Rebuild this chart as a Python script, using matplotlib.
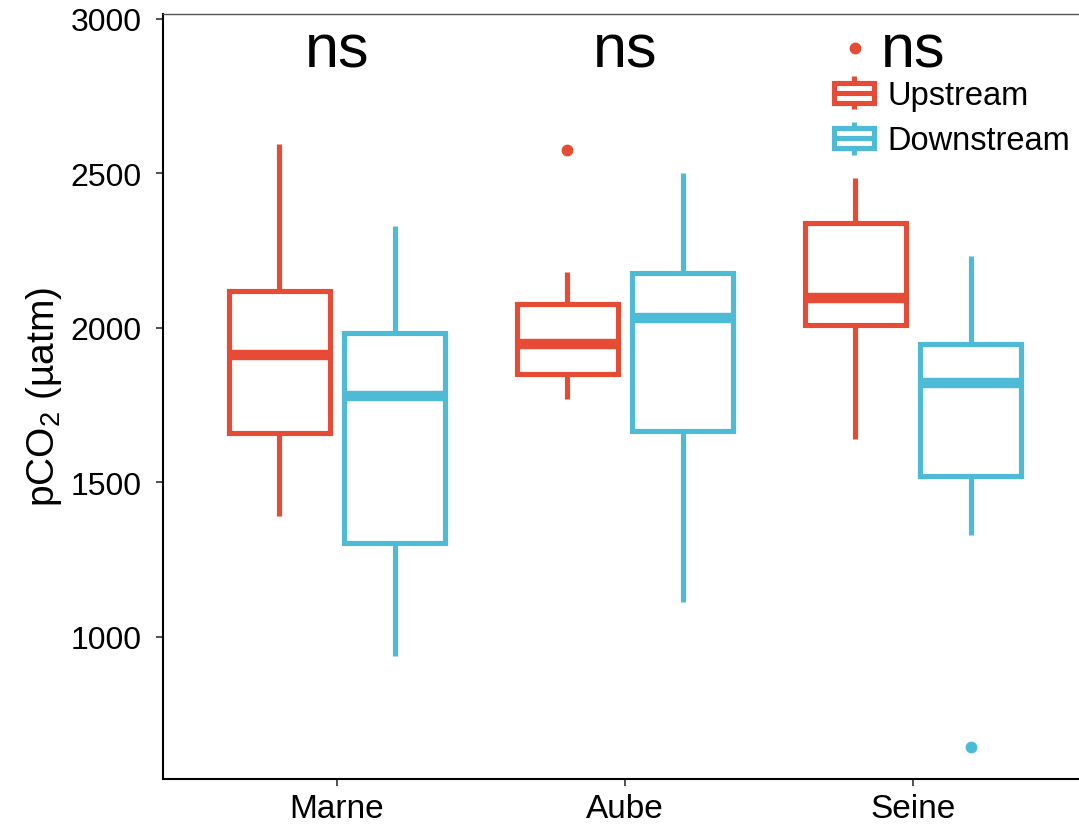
import matplotlib
matplotlib.use("Agg")
import matplotlib.pyplot as plt
from matplotlib.legend_handler import HandlerBase
from matplotlib.patches import Rectangle
from matplotlib.lines import Line2D

plt.rcParams['font.family'] = ['Liberation Sans', 'DejaVu Sans']

# data
rivers = ["Marne", "Aube", "Seine"]
groups = ["Upstream", "Downstream"]
colors = {"Upstream": "#E64B35", "Downstream": "#4DBBD5"}

    # Upstream : whisker low, Q1, median, Q3, whisker high, outliers
up_whislo = [1392, 1770, 1641]
up_q1 = [1659, 1851, 2010]
up_med = [1913, 1948, 2097]
up_q3 = [2118, 2078, 2340]
up_whishi = [2595, 2182, 2485]
up_fliers = [[], [2577], [2906]]

    # Downstream
down_whislo = [938, 1113, 1330]
down_q1 = [1303, 1665, 1521]
down_med = [1780, 2032, 1822]
down_q3 = [1982, 2178, 1948]
down_whishi = [2330, 2502, 2233]
down_fliers = [[], [], [642]]

signif = ["ns", "ns", "ns"]
yticks = [1000, 1500, 2000, 2500, 3000]

summary = {
    "Upstream": (up_whislo, up_q1, up_med, up_q3, up_whishi, up_fliers),
    "Downstream": (down_whislo, down_q1, down_med, down_q3, down_whishi, down_fliers),
}
offsets = {"Upstream": -0.2, "Downstream": 0.2}

    # figure
fig = plt.figure(figsize=(10.79, 8.29), dpi=100)
ax = fig.add_axes([163/1079, 1-780/829, 1-163/1079, (780-15)/829])

for g in groups:
    lo, q1, med, q3, hi, fl = summary[g]
    c = colors[g]
    stats = []
    for i in range(len(rivers)):
        stats.append(dict(whislo=lo[i], q1=q1[i], med=med[i], q3=q3[i], whishi=hi[i], fliers=fl[i]))
    pos = [i + offsets[g] for i in range(len(rivers))]
    ax.bxp(stats, positions=pos, widths=0.35, patch_artist=True, showcaps=False,
           manage_ticks=False,
           boxprops=dict(facecolor='white', edgecolor=c, linewidth=3.7),
           medianprops=dict(color=c, linewidth=7.5, solid_capstyle='butt'),
           whiskerprops=dict(color=c, linewidth=3.7, solid_capstyle='butt'),
           flierprops=dict(marker='o', markerfacecolor=c, markeredgecolor=c, markersize=7.5))

    # significance labels
for i, s in enumerate(signif):
    ax.text(i, 2896, s, ha='center', va='center', fontsize=44)

    # axes
ax.set_xlim(-0.604, 2.576)
ax.set_ylim(540, 3016)
ax.set_xticks(range(len(rivers)))
ax.set_xticklabels(rivers, fontsize=24)
ax.set_yticks(yticks)
ax.set_yticklabels([str(t) for t in yticks], fontsize=23)
ax.tick_params(length=5, width=1.2, colors='#333333', labelcolor='black')
ax.tick_params(axis='y', pad=10.5)
ax.tick_params(axis='x', pad=5)
ax.set_ylabel(r'pCO$_\mathregular{2}$ (µatm)', fontsize=28, labelpad=4.5)
for side in ['left', 'bottom']:
    ax.spines[side].set_linewidth(1.5)
ax.spines['top'].set_color('#555555')
ax.spines['top'].set_linewidth(1.0)
ax.spines['right'].set_visible(False)


    # legend with box glyphs
class BoxKey(HandlerBase):
    def __init__(self, color):
        super().__init__()
        self.color = color

    def create_artists(self, legend, orig_handle, xdescent, ydescent, width, height, fontsize, trans):
        c = self.color
        x0, y0 = -xdescent, -ydescent
        bh = height * 0.6
        by = y0 + (height - bh) / 2
        xm = x0 + width / 2
        w1 = Line2D([xm, xm], [y0, by], color=c, lw=3.7, solid_capstyle='butt', transform=trans)
        w2 = Line2D([xm, xm], [by + bh, y0 + height], color=c, lw=3.7, solid_capstyle='butt', transform=trans)
        rect = Rectangle((x0, by), width, bh, facecolor='white', edgecolor=c, linewidth=3.7, transform=trans)
        med = Line2D([x0, x0 + width], [y0 + height / 2] * 2, color=c, lw=3.7, solid_capstyle='butt', transform=trans)
        return [w1, w2, rect, med]


handles = [Rectangle((0, 0), 1, 1, label=g) for g in groups]
hmap = {h: BoxKey(colors[g]) for h, g in zip(handles, groups)}
fig.legend(handles=handles, handler_map=hmap, loc='upper left',
           bbox_to_anchor=(834/1079, 1-77/829), frameon=False, fontsize=23.5,
           borderpad=0, borderaxespad=0, handlelength=1.23, handleheight=1.2,
           handletextpad=0.4, labelspacing=0.33)

plt.savefig('out.png', dpi=100)
